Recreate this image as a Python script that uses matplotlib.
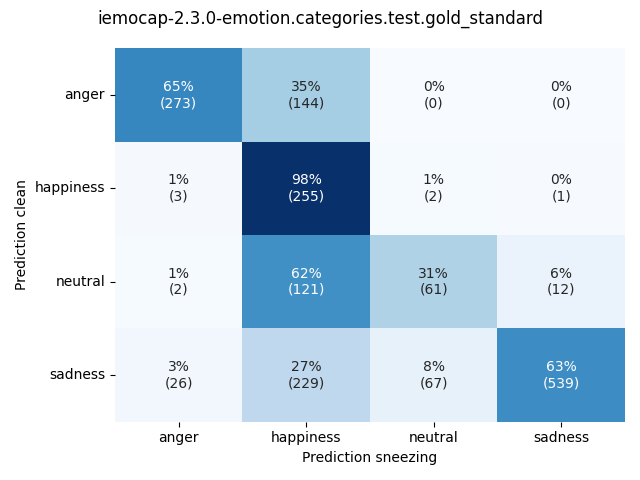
import numpy as np
import matplotlib
matplotlib.use("Agg")
import matplotlib.pyplot as plt
import seaborn as sns

labels = ["anger", "happiness", "neutral", "sadness"]
counts = np.array([
    [273, 144, 0, 0],
    [3, 255, 2, 1],
    [2, 121, 61, 12],
    [26, 229, 67, 539],
])
title = "iemocap-2.3.0-emotion.categories.test.gold_standard"

# row-normalised percentages
percent = 100.0 * counts / counts.sum(axis=1, keepdims=True)
annot = np.array([
    [f"{round(p):.0f}%\n({c})" for p, c in zip(prow, crow)]
    for prow, crow in zip(percent, counts)
])

fig, ax = plt.subplots(figsize=(6.4, 4.8), dpi=100)
sns.heatmap(
    percent,
    annot=annot,
    fmt="",
    cmap="Blues",
    cbar=False,
    xticklabels=labels,
    yticklabels=labels,
    ax=ax,
)
ax.set_yticklabels(labels, rotation=0)
ax.set_xlabel("Prediction sneezing")
ax.set_ylabel("Prediction clean")
fig.suptitle(title)
plt.tight_layout()
fig.savefig("out.png")
